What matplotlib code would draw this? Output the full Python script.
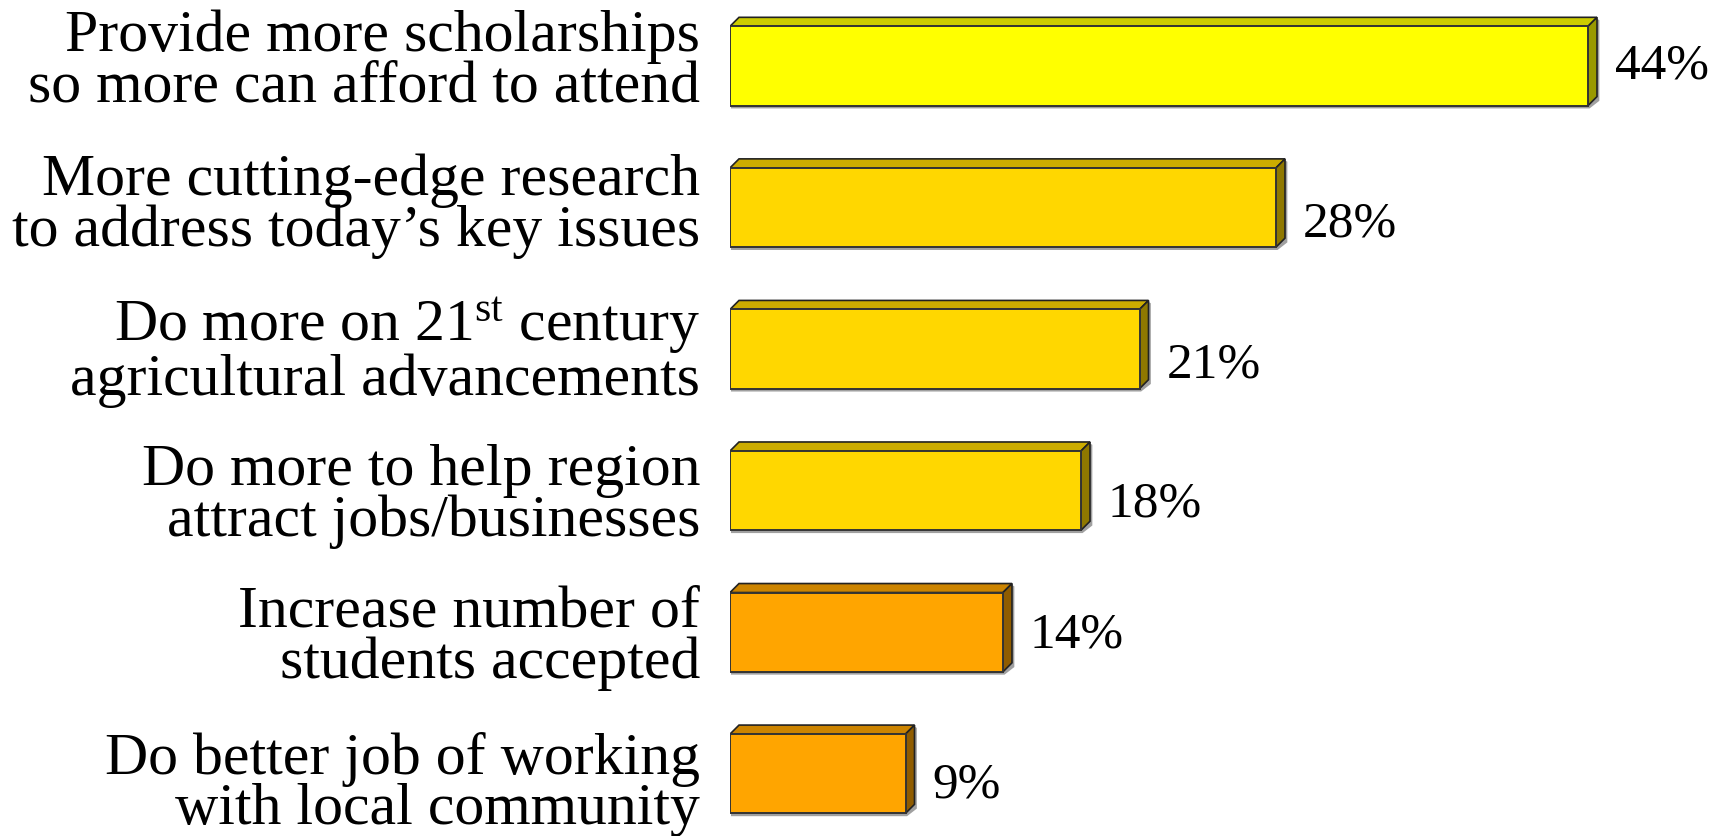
import matplotlib
matplotlib.use("Agg")
import matplotlib.pyplot as plt
from matplotlib.patches import Polygon
import matplotlib.transforms as mtransforms

plt.rcParams['font.family'] = ['Liberation Serif', 'DejaVu Serif']
plt.rcParams['mathtext.fontset'] = 'custom'
plt.rcParams['mathtext.rm'] = 'Liberation Serif'
plt.rcParams['mathtext.it'] = 'Liberation Serif:italic'

categories = [
    "Provide more scholarships\nso more can afford to attend",
    "More cutting-edge research\nto address today\u2019s key issues",
    "Do more on 21$^{\\mathrm{st}}$ century\nagricultural advancements",
    "Do more to help region\nattract jobs/businesses",
    "Increase number of\nstudents accepted",
    "Do better job of working\nwith local community",
]
values = [44, 28, 21, 18, 14, 9]
value_labels = ["44%", "28%", "21%", "18%", "14%", "9%"]

# front / top / side shades for each bar
front_colors = ["#FFFF00", "#FFD700", "#FFD700", "#FFD700", "#FFA500", "#FFA500"]
top_colors = ["#CCCC00", "#CCAC00", "#CCAC00", "#CCAC00", "#CC8400", "#CC8400"]
side_colors = ["#999900", "#8F7800", "#8F7800", "#8F7800", "#8F5C00", "#8F5C00"]

# vertical nudges (pixels, downward) for category and value labels
cat_nudge = [-4, -1, 3, 6, 6, 11]
val_nudge = [0, 17, 16, 14, 3, 12]

W, H = 1716, 836
fig = plt.figure(figsize=(W / 100, H / 100), dpi=100)
ax = fig.add_axes([730 / W, 0, (1705 - 730) / W, 1])
ax.set_xlim(0, 50)
ax.set_ylim(5.44, -0.466)
ax.axis("off")

bar_h = 0.56
depth_px = 9
px_per_x = (1705 - 730) / 50
px_per_y = H / (5.44 + 0.466)
dx = depth_px / px_per_x
dy = depth_px / px_per_y

for i, v in enumerate(values):
    top = i - bar_h / 2
    bot = i + bar_h / 2
    # shadow
    ax.add_patch(Polygon([(v + dx, top - dy + 0.01), (v + dx + 0.12, top - dy + 0.02),
                          (v + dx + 0.12, bot - dy + 0.03), (v + 0.08, bot + 0.02),
                          (0.05, bot + 0.02), (0.05, bot), (v, bot), (v + dx, bot - dy)],
                         closed=True, facecolor="#A0A0A0", edgecolor="none", zorder=1))
    # top face
    ax.add_patch(Polygon([(0, top), (dx, top - dy), (v + dx, top - dy), (v, top)],
                         closed=True, facecolor=top_colors[i], edgecolor="#222222",
                         linewidth=1.2, zorder=2))
    # side face
    ax.add_patch(Polygon([(v, top), (v + dx, top - dy), (v + dx, bot - dy), (v, bot)],
                         closed=True, facecolor=side_colors[i], edgecolor="#222222",
                         linewidth=1.2, zorder=2))
    # front face
    ax.barh(i, v, height=bar_h, left=0, color=front_colors[i], edgecolor="#333333",
            linewidth=1.4, zorder=3)

    label_tr = mtransforms.offset_copy(ax.transData, fig=fig, x=-30, y=-cat_nudge[i], units="dots")
    ax.text(0, i, categories[i], transform=label_tr, ha="right", va="center",
            fontsize=43, linespacing=0.91)

    val_tr = mtransforms.offset_copy(ax.transData, fig=fig, x=depth_px + 18, y=-val_nudge[i], units="dots")
    ax.text(v, i, value_labels[i], transform=val_tr, ha="left", va="center", fontsize=37)

fig.savefig("out.png", dpi=100)
